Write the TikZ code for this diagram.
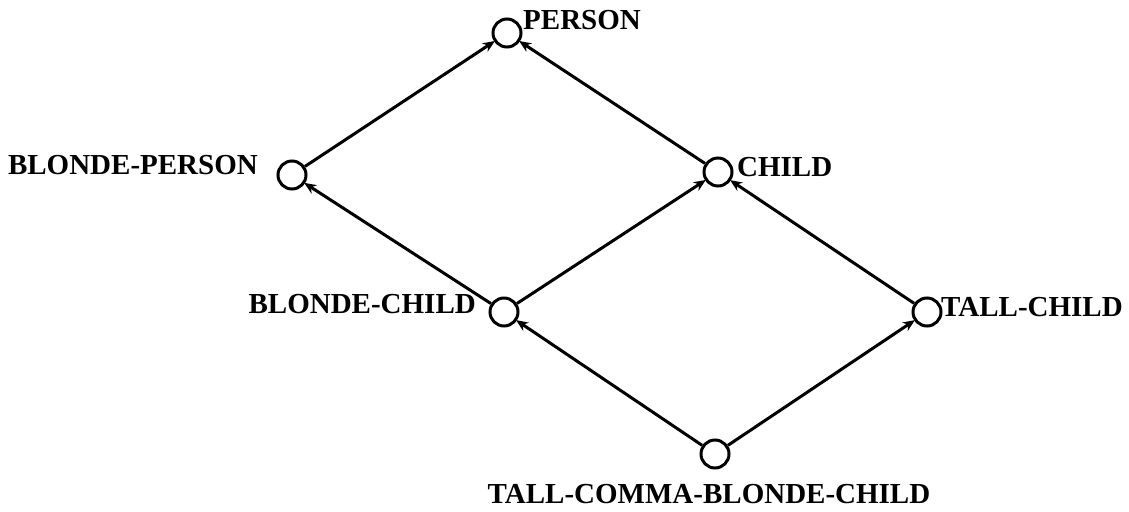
\documentclass[tikz,border=0pt]{standalone}
\usepackage{fontspec}
\setmainfont{Liberation Serif}
\usetikzlibrary{arrows.meta}
\begin{document}
\begin{tikzpicture}[x=1pt,y=-1pt,
  concept/.style={circle,draw,line width=3pt,minimum size=28pt,inner sep=0pt},
  lbl/.style={font=\fontsize{29}{32}\selectfont\bfseries,inner sep=0pt},
  isa/.style={line width=3pt,-{Stealth[length=12pt,width=10pt]},shorten >=-1pt}]
\useasboundingbox (0,0) rectangle (1129,511);
\fill[white] (0,0) rectangle (1129,511);
\node[concept] (person) at (507,33) {};
\node[concept] (bperson) at (292,175) {};
\node[concept] (child) at (718,172) {};
\node[concept] (bchild) at (504,312) {};
\node[concept] (tchild) at (927,312) {};
\node[concept] (tcb) at (715,454) {};
\node[lbl,anchor=west] (lperson) at (523,20) {PERSON};
\node[lbl,anchor=east] (lbperson) at (258,165) {BLONDE-PERSON};
\node[lbl,anchor=west] (lchild) at (737,167) {CHILD};
\node[lbl,anchor=east] (lbchild) at (476,304) {BLONDE-CHILD};
\node[lbl,anchor=west] (ltchild) at (941,307) {TALL-CHILD};
\node[lbl] (ltcb) at (709,494) {TALL-COMMA-BLONDE-CHILD};
\draw[isa] (bperson) -- (person);
\draw[isa] (child) -- (person);
\draw[isa] (bchild) -- (bperson);
\draw[isa] (bchild) -- (child);
\draw[isa] (tchild) -- (child);
\draw[isa] (tcb) -- (bchild);
\draw[isa] (tcb) -- (tchild);
\end{tikzpicture}
\end{document}
